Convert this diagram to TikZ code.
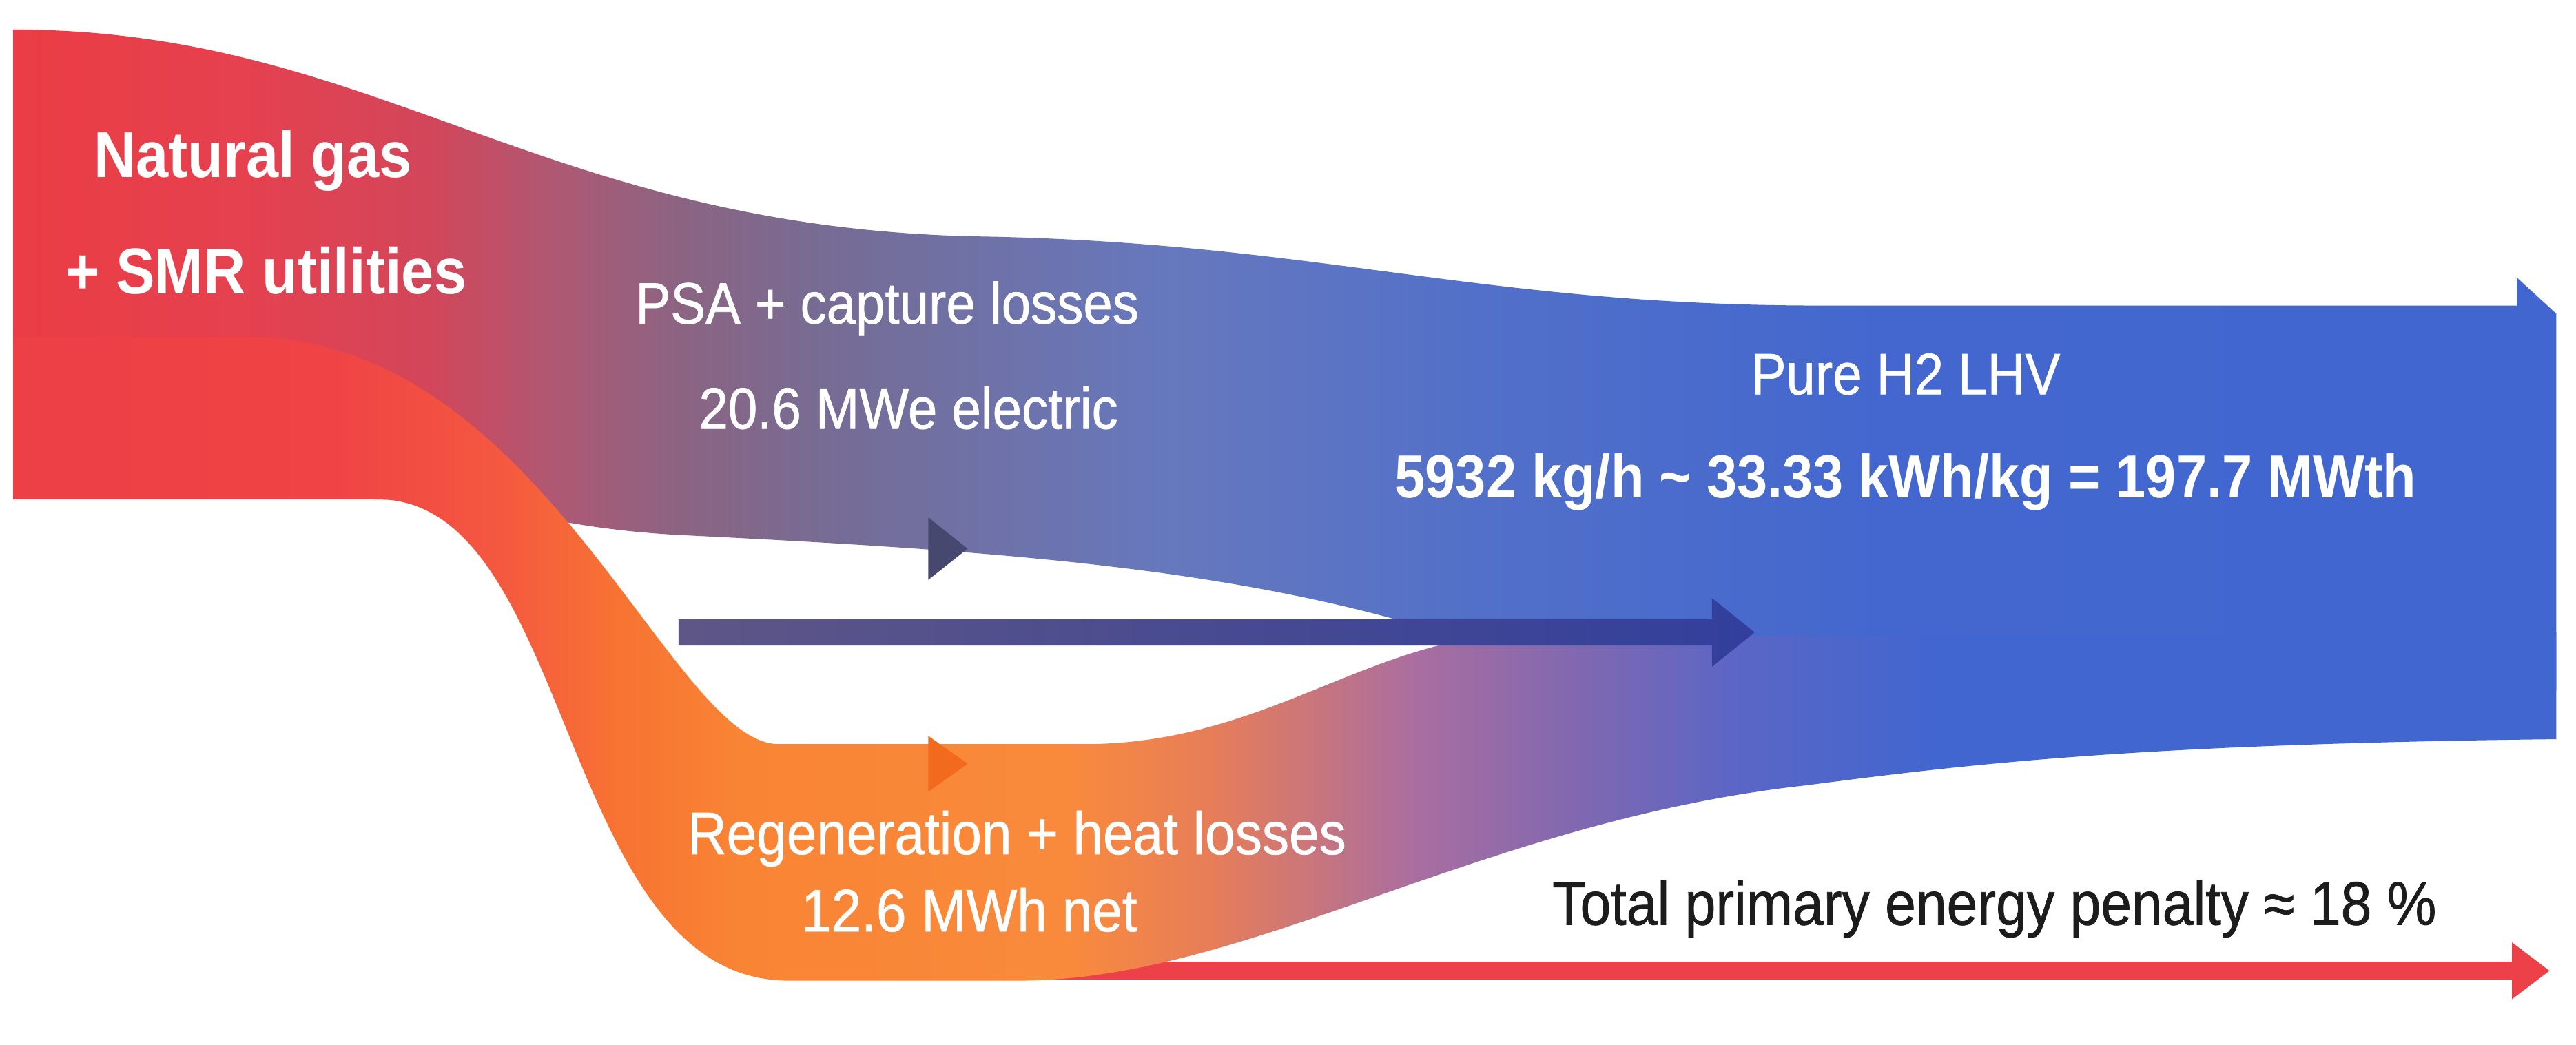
\documentclass[tikz,border=0pt]{standalone}
\usepackage{fontspec}
\setmainfont{Liberation Sans}[FakeStretch=0.9]
\newfontfamily\medfont{Liberation Sans}[FakeStretch=0.9,FakeBold=0.8]
\usetikzlibrary{arrows.meta,calc}
% upper band colours
\definecolor{ua}{HTML}{EA3D45}
\definecolor{ub}{HTML}{E5414F}
\definecolor{uc}{HTML}{D2465A}
\definecolor{ud}{HTML}{AF5873}
\definecolor{ue}{HTML}{8C6482}
\definecolor{uf}{HTML}{766C94}
\definecolor{ug}{HTML}{6678BE}
\definecolor{uh}{HTML}{5270C9}
\definecolor{ui}{HTML}{4367CF}
\definecolor{uj}{HTML}{4166CF}
% lower band colours
\definecolor{oa}{HTML}{EC3F46}
\definecolor{ob}{HTML}{EF4345}
\definecolor{oc}{HTML}{F45740}
\definecolor{od}{HTML}{F77432}
\definecolor{oe}{HTML}{F98434}
\definecolor{of}{HTML}{F98A3C}
\definecolor{og}{HTML}{E67D5A}
\definecolor{oh}{HTML}{AA6EA0}
\definecolor{oi}{HTML}{8068B0}
\definecolor{oj}{HTML}{5A66C6}
\definecolor{ok}{HTML}{4166CF}
% others
\definecolor{penred}{HTML}{EC4148}
\definecolor{darkL}{HTML}{5E5686}
\definecolor{darkR}{HTML}{323F9C}
\definecolor{darktri}{HTML}{464870}
\definecolor{orangetri}{HTML}{F26A1E}
\definecolor{inktext}{HTML}{1C1C1C}
\pgfdeclarehorizontalshading{upshade}{100bp}{color(0bp)=(ua); color(25bp)=(ua); color(29.59bp)=(ub); color(33.2bp)=(uc); color(35.63bp)=(ud); color(38.05bp)=(ue); color(40.99bp)=(uf); color(47.77bp)=(ug); color(53.81bp)=(uh); color(61.89bp)=(ui); color(75bp)=(uj); color(100bp)=(uj)}
\pgfdeclarehorizontalshading{orshade}{100bp}{color(0bp)=(oa); color(25bp)=(oa); color(31.2bp)=(ob); color(34.43bp)=(oc); color(37.02bp)=(od); color(39.28bp)=(oe); color(45.74bp)=(of); color(48.64bp)=(og); color(52.52bp)=(oh); color(55.75bp)=(oi); color(58.98bp)=(oj); color(62.86bp)=(ok); color(75bp)=(ok); color(100bp)=(ok)}
\begin{document}
\begin{tikzpicture}[x=1pt,y=-1pt,
  lbl/.style={text=white,inner sep=0pt,anchor=base},
  bigbold/.style={font=\fontsize{39.5}{47}\selectfont\bfseries},
  midreg/.style={font=\medfont\fontsize{35.5}{43}\selectfont},
  midbold/.style={font=\fontsize{37}{44}\selectfont\bfseries}]
\useasboundingbox (0,0) rectangle (1568,636);
\fill[white] (0,0) rectangle (1568,636);

% total penalty arrow (behind the lower band)
\coordinate (penA) at (640,591);
\coordinate (penB) at (1552,591);
\draw[penred, line width=11pt, -{Triangle[length=23pt,width=33pt]}] (penA) -- (penB);

% upper flow: natural gas -> pure H2
\shade[shading=upshade] (8,18) .. controls (230,18) and (330,140) .. (600,144)
  .. controls (800,148) and (900,185) .. (1100,186) -- (1532,186) -- (1532,169)
  -- (1556,191) -- (1556,420) -- (1100,420) -- (880,386)
  .. controls (750,345) and (600,335) .. (420,326)
  .. controls (330,322) and (310,304) .. (220,304) -- (8,304) -- cycle;

% lower flow: regeneration + heat losses
\shade[shading=orshade] (8,205) -- (150,205) .. controls (330,205) and (408,453) .. (474,453)
  -- (660,453) .. controls (760,453) and (820,400) .. (900,388) -- (1556,385) -- (1556,450)
  .. controls (1300,453) and (1200,465) .. (1100,478)
  .. controls (900,500) and (760,597) .. (620,597) -- (480,597)
  .. controls (340,597) and (350,304) .. (230,304) -- (8,304) -- cycle;

% small direction marks
\fill[darktri] (565,315) -- (589,334) -- (565,353) -- cycle;
\fill[orangetri] (565,448) -- (589,465) -- (565,482) -- cycle;

% horizontal dark arrow
\coordinate (hA) at (413,385);
\coordinate (hB) at (1068,385);
\shade[left color=darkL, right color=darkR]
  ($(hA)+(0,-8)$) -- ($(hB)+(-26,-8)$) -- ($(hB)+(-26,-21)$) -- (hB)
  -- ($(hB)+(-26,21)$) -- ($(hB)+(-26,8)$) -- ($(hA)+(0,8)$) -- cycle;

% labels
\node[lbl,bigbold] (src1) at (154,108) {Natural gas};
\node[lbl,bigbold] (src2) at (162,179) {+ SMR utilities};
\node[lbl,midreg] (psa1) at (540,197) {PSA + capture losses};
\node[lbl,midreg] (psa2) at (553,261) {20.6 MWe electric};
\node[lbl,midreg] (h2a) at (1160,240) {Pure H2 LHV};
\node[lbl,midbold] (h2b) at (1160,303) {5932 kg/h \textasciitilde{} 33.33 kWh/kg = 197.7 MWth};
\node[lbl,font=\medfont\fontsize{36.5}{44}\selectfont] (reg1) at (619,520) {Regeneration + heat losses};
\node[lbl,font=\medfont\fontsize{36.5}{44}\selectfont] (reg2) at (590,567) {12.6 MWh net};
\node[inner sep=0pt,anchor=base,text=inktext,font=\medfont\fontsize{37.5}{45}\selectfont] (pen) at (1214,563) {Total primary energy penalty ≈ 18 \%};
\end{tikzpicture}
\end{document}
